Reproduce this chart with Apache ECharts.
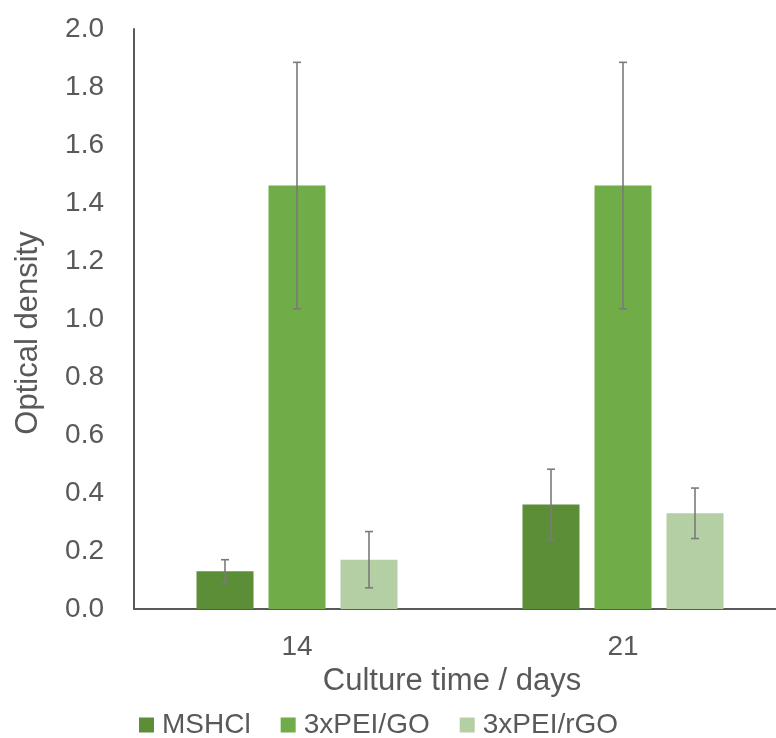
<!DOCTYPE html>
<html>
<head>
<meta charset="utf-8">
<script src="https://cdn.jsdelivr.net/npm/echarts@6/dist/echarts.min.js"></script>
<style>
  html, body { margin: 0; padding: 0; background: #fff; overflow: hidden; }
  #chart { width: 786px; height: 738px; }
</style>
</head>
<body>
<div id="chart"></div>
<script>
// Culture time categories (days)
const categories = ['14', '21'];

// Mean optical density per group
const mshclValues = [0.13, 0.36];
const peiGoValues = [1.46, 1.46];
const peiRgoValues = [0.17, 0.33];

// Standard deviation per group
const mshclErrors = [0.04, 0.122];
const peiGoErrors = [0.425, 0.425];
const peiRgoErrors = [0.097, 0.087];

const seriesNames = ['MSHCl', '3xPEI/GO', '3xPEI/rGO'];
const yTicks = [0, 0.2, 0.4, 0.6, 0.8, 1.0, 1.2, 1.4, 1.6, 1.8, 2.0];

const colors = ['#5b8e37', '#70ac47', '#b4cfa4'];
const textColor = '#595959';
const BAR_W = 57;
const BAR_GAP = 15;

const chart = echarts.init(document.getElementById('chart'));

function errorSeries(values, errors, groupIndex) {
  const offset = (groupIndex - 1) * (BAR_W + BAR_GAP);
  return {
    type: 'custom',
    name: seriesNames[groupIndex] + ' error',
    z: 10,
    silent: true,
    data: values.map((v, i) => [i, v - errors[i], v + errors[i]]),
    renderItem: function (params, api) {
      const lo = api.coord([api.value(0), api.value(1)]);
      const hi = api.coord([api.value(0), api.value(2)]);
      const x = lo[0] + offset;
      const cap = 4;
      const style = { stroke: '#7a7a7a', lineWidth: 1.6 };
      return {
        type: 'group',
        children: [
          { type: 'line', shape: { x1: x, y1: lo[1], x2: x, y2: hi[1] }, style: style },
          { type: 'line', shape: { x1: x - cap, y1: hi[1], x2: x + cap, y2: hi[1] }, style: style },
          { type: 'line', shape: { x1: x - cap, y1: lo[1], x2: x + cap, y2: lo[1] }, style: style }
        ]
      };
    }
  };
}

const valueSets = [mshclValues, peiGoValues, peiRgoValues];
const errorSets = [mshclErrors, peiGoErrors, peiRgoErrors];

const barSeries = valueSets.map((vals, k) => ({
  type: 'bar',
  name: seriesNames[k],
  data: vals,
  barWidth: BAR_W,
  barGap: (BAR_GAP / BAR_W * 100) + '%',
  itemStyle: { color: colors[k] }
}));

const errSeries = valueSets.map((vals, k) => errorSeries(vals, errorSets[k], k));

chart.setOption({
  animation: false,
  textStyle: { fontFamily: 'Liberation Sans, Arial, sans-serif' },
  grid: { left: 134, top: 29, height: 580, right: 0, containLabel: false },
  legend: {
    data: seriesNames,
    left: 134,
    top: 706,
    itemWidth: 15,
    itemHeight: 15,
    itemGap: 30,
    icon: 'rect',
    textStyle: { color: textColor, fontSize: 28, padding: [0, 0, 0, 3], fontFamily: 'Liberation Sans, Arial, sans-serif' }
  },
  xAxis: {
    type: 'category',
    data: categories,
    name: 'Culture time / days',
    nameLocation: 'middle',
    nameGap: 57,
    nameTextStyle: { color: textColor, fontSize: 31, padding: [0, 16, 0, 0] },
    axisLine: { lineStyle: { color: '#595959', width: 2 } },
    axisTick: { show: false },
    axisLabel: { color: textColor, fontSize: 28, margin: 24 }
  },
  yAxis: {
    type: 'value',
    min: yTicks[0],
    max: yTicks[yTicks.length - 1],
    interval: 0.2,
    name: 'Optical density',
    nameLocation: 'middle',
    nameGap: 90,
    nameTextStyle: { color: textColor, fontSize: 31, padding: [0, 28, 0, 0] },
    axisLine: { show: true, lineStyle: { color: '#595959', width: 2 } },
    axisTick: { show: false },
    splitLine: { show: false },
    axisLabel: {
      color: textColor,
      fontSize: 28,
      margin: 30,
      formatter: v => v.toFixed(1)
    }
  },
  series: barSeries.concat(errSeries)
});
</script>
</body>
</html>
